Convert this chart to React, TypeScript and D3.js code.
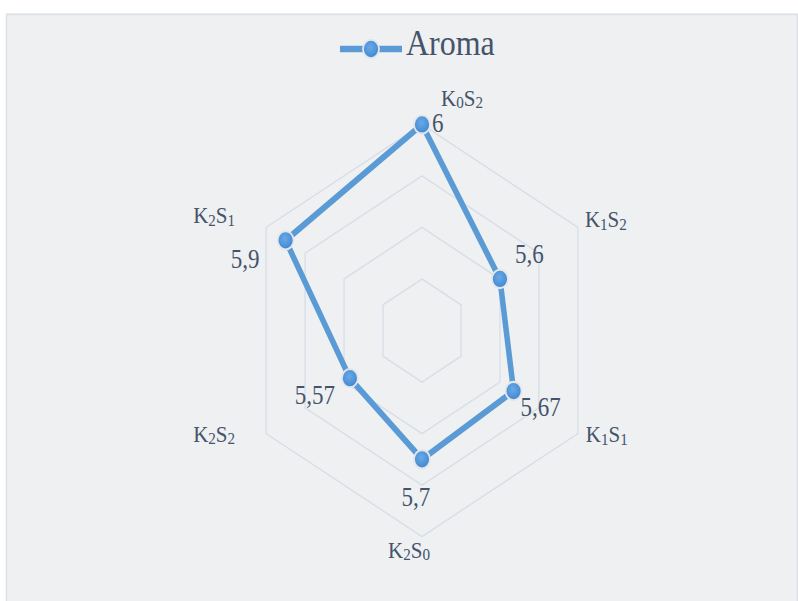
import * as d3 from 'd3';
import React from 'react';

// chart data
const categories = ['K0S2', 'K1S2', 'K1S1', 'K2S0', 'K2S2', 'K2S1'];
const aroma = [6, 5.6, 5.67, 5.7, 5.57, 5.9];
const ringTicks = [5.4, 5.6, 5.8, 6.0];
const axisMin = 5.2;
const axisMax = 6.0;
const seriesName = 'Aroma';

// label placement (relative to vertex / point, logical units)
const catLabelPos = [
  { dx: 19, dy: -16.4, anchor: 'start' },
  { dx: 7, dy: 0, anchor: 'start' },
  { dx: 8, dy: 7.7, anchor: 'start' },
  { dx: -13, dy: 18.5, anchor: 'middle' },
  { dx: -31, dy: 7.1, anchor: 'end' },
  { dx: -31, dy: -3.6, anchor: 'end' },
];
const valLabelPos = [
  { dx: 10, dy: 6.2, anchor: 'start' },
  { dx: 15, dy: -14, anchor: 'start' },
  { dx: 7, dy: 21.6, anchor: 'start' },
  { dx: -6, dy: 40.4, anchor: 'middle' },
  { dx: -15, dy: 23, anchor: 'end' },
  { dx: -26, dy: 24.4, anchor: 'end' },
];

const W = 798;
const H = 601;
const SY = 1.1448; // the chart is stretched vertically
const LH = H / SY;
const cx = 422;
const cy = 288.7;
const R = 180;

const BLUE = '#5b9bd5';
const TEXT = '#44546a';
const GRID = '#d8dee7';
const FONT = '"Liberation Serif", "Times New Roman", serif';

const fmt = (v: number) => String(v).replace('.', ',');

function SubLabel({ text, x, y, anchor, size }: any) {
  // letters normal, digits as subscripts
  const parts = text.match(/[A-Za-z]+|\d+/g) || [];
  let lastSub = false;
  return (
    <text x={x} y={y} textAnchor={anchor} fill={TEXT} fontFamily={FONT} fontSize={size}>
      {parts.map((p: string, i: number) => {
        const isSub = /\d/.test(p);
        const dy = isSub && !lastSub ? 2 : !isSub && lastSub ? -2 : 0;
        lastSub = isSub;
        return (
          <tspan key={i} dy={dy} fontSize={isSub ? size * 0.72 : size}>
            {p}
          </tspan>
        );
      })}
    </text>
  );
}

export default function App() {
  const r = d3.scaleLinear().domain([axisMin, axisMax]).range([0, R]);
  const angle = d3
    .scaleLinear()
    .domain([0, categories.length])
    .range([0, 2 * Math.PI]);

  const pos = (i: number, v: number) => {
    const a = angle(i);
    return [cx + r(v) * Math.sin(a), cy - r(v) * Math.cos(a)];
  };

  const radial = d3
    .lineRadial<number>()
    .angle((_, i) => angle(i))
    .radius((d) => r(d))
    .curve(d3.curveLinearClosed);

  const legendY = 42.8;

  return (
    <svg
      width={W}
      height={H}
      viewBox={`0 0 ${W} ${LH}`}
      preserveAspectRatio="none"
      style={{ position: 'absolute', left: 0, top: 0, display: 'block' }}
    >
      <defs>
        <radialGradient id="mk" cx="45%" cy="40%" r="60%">
          <stop offset="0%" stopColor="#6aa9e6" />
          <stop offset="100%" stopColor="#3f87d2" />
        </radialGradient>
      </defs>
      <rect x={0} y={0} width={W} height={LH} fill="#ffffff" />
      <rect
        x={6.5}
        y={12.5}
        width={791}
        height={LH}
        fill="#eff0f2"
        stroke="#dbe0e6"
        strokeWidth={1.5}
      />

      {/* rings + series */}
      <g transform={`translate(${cx},${cy})`}>
        {ringTicks.map((t) => (
          <path
            key={t}
            d={radial(categories.map(() => t)) || ''}
            fill="none"
            stroke={GRID}
            strokeWidth={1.3}
          />
        ))}
        <path
          d={radial(aroma) || ''}
          fill="none"
          stroke={BLUE}
          strokeWidth={5.5}
          strokeLinejoin="round"
        />
      </g>

      {/* markers */}
      {aroma.map((v, i) => {
        const [x, y] = pos(i, v);
        return (
          <circle
            key={i}
            cx={x}
            cy={y}
            r={8}
            fill="url(#mk)"
            stroke="#e3e6ea"
            strokeWidth={1.8}
          />
        );
      })}

      {/* value labels */}
      {aroma.map((v, i) => {
        const [x, y] = pos(i, v);
        const p = valLabelPos[i];
        return (
          <text
            key={i}
            x={x + p.dx}
            y={y + p.dy}
            textAnchor={p.anchor as any}
            fill={TEXT}
            fontFamily={FONT}
            fontSize={23}
          >
            {fmt(v)}
          </text>
        );
      })}

      {/* category labels */}
      {categories.map((c, i) => {
        const [x, y] = pos(i, axisMax);
        const p = catLabelPos[i];
        return (
          <SubLabel
            key={c}
            text={c}
            x={x + p.dx}
            y={y + p.dy}
            anchor={p.anchor}
            size={21}
          />
        );
      })}

      {/* legend */}
      <line x1={340} x2={402} y1={legendY} y2={legendY} stroke={BLUE} strokeWidth={5.5} />
      <circle cx={371} cy={legendY} r={8} fill="url(#mk)" stroke="#e3e6ea" strokeWidth={1.8} />
      <text x={406} y={48} fill={TEXT} fontFamily={FONT} fontSize={32}>
        {seriesName}
      </text>
    </svg>
  );
}
